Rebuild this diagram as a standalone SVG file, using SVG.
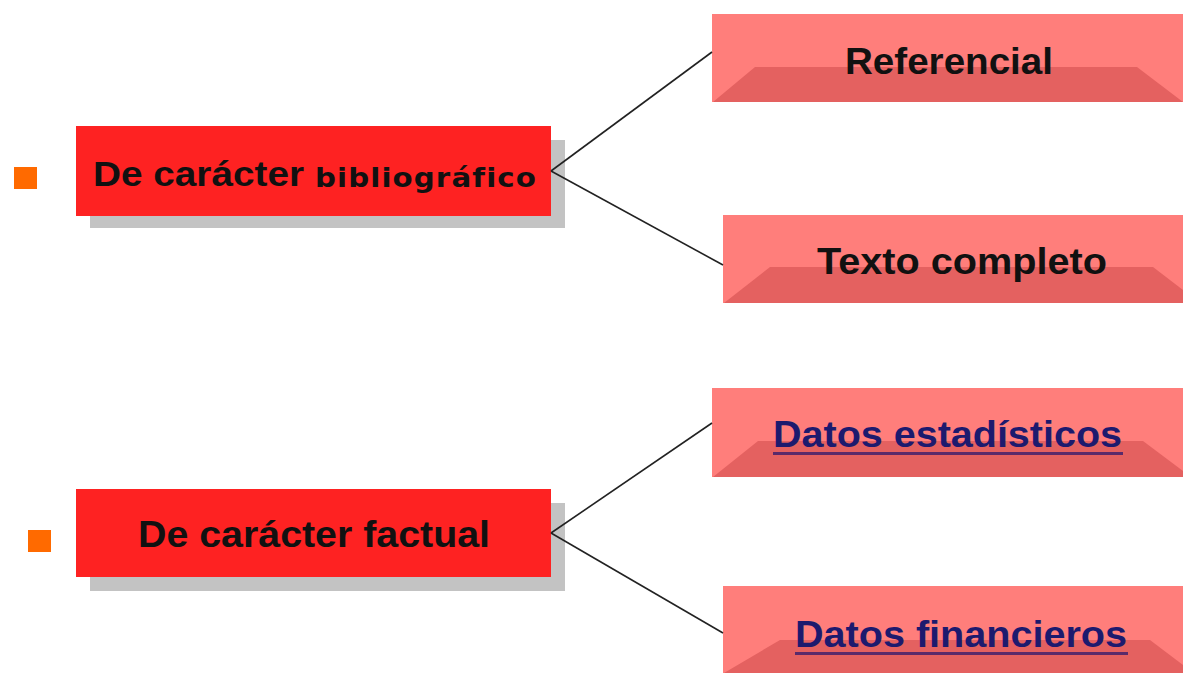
<svg xmlns="http://www.w3.org/2000/svg" width="1183" height="673" viewBox="0 0 1183 673">
<style>
.main{fill:#fe2222}
.shadow{fill:#c3c3c3}
.bullet{fill:#ff6a00}
.sub{fill:#ff7e7b}
.bevel{fill:#e46160}
.t{font-family:"Liberation Sans",Arial,sans-serif;font-weight:bold;fill:#111}
.heavy{font-family:"DejaVu Sans","Liberation Sans",sans-serif;font-weight:bold;fill:#111}
.link{fill:#1d1a6e}
.ul{fill:#5a2a6a}
.conn{stroke:#222;stroke-width:1.6;fill:none}
</style>
<rect width="1183" height="673" fill="#ffffff"/>
<g id="node-bibliografico">
<rect class="bullet" x="14" y="167" width="23" height="22"/>
<rect class="shadow" x="90" y="140" width="475" height="88"/>
<rect class="main" x="76" y="126" width="475" height="90"/>
<text class="t" x="93" y="186" font-size="35" textLength="211" lengthAdjust="spacingAndGlyphs">De carácter</text>
<text class="heavy" x="315" y="187" font-size="26" letter-spacing="1" textLength="222" lengthAdjust="spacingAndGlyphs">bibliográfico</text>
</g>
<g id="node-factual">
<rect class="bullet" x="28" y="530" width="23" height="22"/>
<rect class="shadow" x="90" y="503" width="475" height="88"/>
<rect class="main" x="76" y="489" width="475" height="88"/>
<text class="t" x="138" y="547" font-size="37" textLength="352" lengthAdjust="spacingAndGlyphs">De carácter factual</text>
</g>
<g id="node-referencial">
<rect class="sub" x="712" y="14" width="471" height="88"/>
<polygon class="bevel" points="755,67 1137,67 1183,102 713,102"/>
<text class="t" x="845" y="74" font-size="37" textLength="208" lengthAdjust="spacingAndGlyphs">Referencial</text>
</g>
<g id="node-texto">
<rect class="sub" x="723" y="215" width="460" height="88"/>
<polygon class="bevel" points="770,267 1153,267 1183,290 1183,303 724,303"/>
<text class="t" x="817" y="274" font-size="37" textLength="290" lengthAdjust="spacingAndGlyphs">Texto completo</text>
</g>
<g id="node-estadisticos">
<rect class="sub" x="712" y="388" width="471" height="89"/>
<polygon class="bevel" points="758,441 1143,441 1183,471 1183,477 713,477"/>
<text class="t link" x="773" y="447" font-size="37" textLength="349" lengthAdjust="spacingAndGlyphs">Datos estadísticos</text>
<rect class="ul" x="773" y="452" width="350" height="3"/>
</g>
<g id="node-financieros">
<rect class="sub" x="723" y="586" width="460" height="87"/>
<polygon class="bevel" points="780,640 1150,640 1183,665 1183,673 724,673"/>
<text class="t link" x="795" y="647" font-size="37" textLength="332" lengthAdjust="spacingAndGlyphs">Datos financieros</text>
<rect class="ul" x="795" y="652" width="333" height="3"/>
</g>
<g id="connectors">
<line class="conn" x1="551" y1="171" x2="712" y2="52"/>
<line class="conn" x1="551" y1="171" x2="723" y2="265"/>
<line class="conn" x1="551" y1="533" x2="712" y2="423"/>
<line class="conn" x1="551" y1="533" x2="723" y2="633"/>
</g>
</svg>
